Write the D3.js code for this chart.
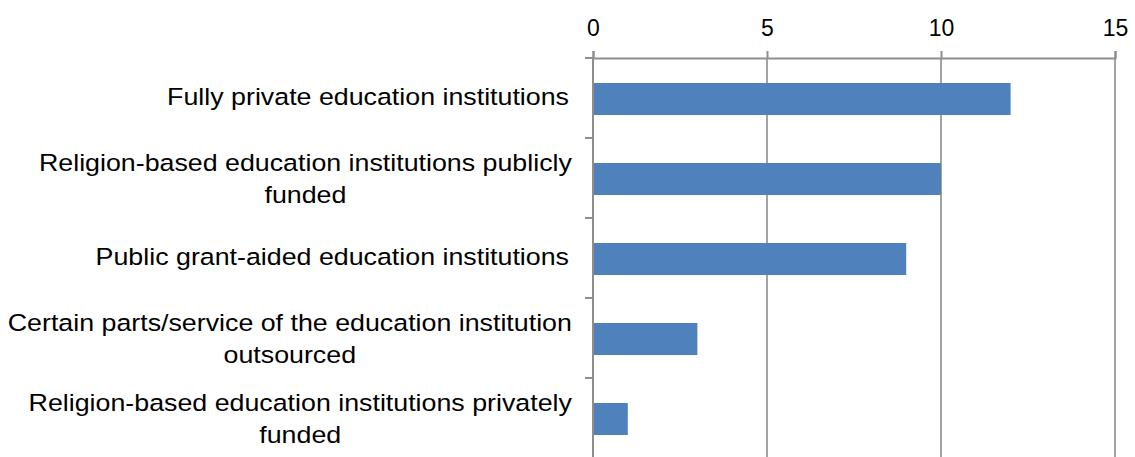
<!DOCTYPE html>
<html>
<head>
<meta charset="utf-8">
<script src="https://cdn.jsdelivr.net/npm/d3@7"></script>
<style>
  html, body { margin: 0; padding: 0; background: #ffffff; }
  svg { display: block; }
</style>
</head>
<body>
<svg id="chart" width="1135" height="457"></svg>
<script>
// Institution types (top to bottom) and their counts
const categories = [
  "Fully private education institutions",
  "Religion-based education institutions publicly\nfunded",
  "Public grant-aided education institutions",
  "Certain parts/service of the education institution\noutsourced",
  "Religion-based education institutions privately\nfunded"
];
const counts = [12, 10, 9, 3, 1];
const tickValues = [0, 5, 10, 15];

const svg = d3.select("#chart");
const labelFont = "'Liberation Sans', Arial, sans-serif";
const stretch = 1.14;

const x = d3.scaleLinear().domain([0, 15]).range([593, 1115]);
const y = d3.scaleBand().domain(categories).range([58, 458]).padding(0);

const gridColor = "#a3a3a3";
const axisColor = "#8e8e8e";

// vertical gridlines
svg.append("g")
  .selectAll("line")
  .data(tickValues.filter(v => v > 0))
  .join("line")
  .attr("x1", d => x(d)).attr("x2", d => x(d))
  .attr("y1", 58).attr("y2", 458)
  .attr("stroke", gridColor).attr("stroke-width", 2);

// top value axis
const xAxis = svg.append("g")
  .attr("transform", "translate(0,58)")
  .call(d3.axisTop(x).tickValues(tickValues).tickSize(7).tickPadding(0).tickFormat(d3.format("d")));
xAxis.select(".domain").attr("stroke", axisColor).attr("stroke-width", 2);
xAxis.selectAll(".tick line").attr("stroke", axisColor).attr("stroke-width", 2);
xAxis.selectAll(".tick text")
  .attr("y", -22)
  .attr("dy", 0)
  .attr("fill", "#000")
  .style("font-family", labelFont)
  .style("font-size", "23px");

// bars
const barH = y.bandwidth() * 0.4;
svg.append("g")
  .selectAll("rect")
  .data(categories.map((c, i) => ({ c, v: counts[i] })))
  .join("rect")
  .attr("x", x(0))
  .attr("y", d => y(d.c) + y.bandwidth() / 2 - barH / 2 + 1)
  .attr("width", d => x(d.v) - x(0))
  .attr("height", barH)
  .attr("fill", "#4f81bd");

// left category axis line and ticks
const yAxis = svg.append("g")
  .attr("transform", `translate(${x(0)},0)`);
yAxis.append("line")
  .attr("x1", 0).attr("x2", 0).attr("y1", 58).attr("y2", 458)
  .attr("stroke", axisColor).attr("stroke-width", 2);
const boundaries = categories.map(c => y(c)).concat([y.range()[1]]);
yAxis.selectAll("line.tk")
  .data(boundaries)
  .join("line")
  .attr("class", "tk")
  .attr("x1", -8).attr("x2", 0)
  .attr("y1", d => d).attr("y2", d => d)
  .attr("stroke", axisColor).attr("stroke-width", 2);

// category labels (wrapped lines centred within their block)
const labels = svg.append("g");
categories.forEach(c => {
  const lines = c.split("\n");
  const cy = y(c) + y.bandwidth() / 2;
  if (lines.length === 1) {
    labels.append("text")
      .attr("transform", `translate(569,${cy + 7}) scale(${stretch},1)`)
      .attr("text-anchor", "end")
      .style("font-family", labelFont)
      .style("font-size", "23.5px")
      .attr("fill", "#000")
      .text(lines[0]);
  } else {
    const temp = labels.append("text")
      .style("font-family", labelFont)
      .style("font-size", "23.5px")
      .text(lines[0]);
    const w = temp.node().getComputedTextLength() * stretch;
    temp.remove();
    const cx = 572 - w / 2;
    lines.forEach((ln, k) => {
      labels.append("text")
        .attr("transform", `translate(${cx},${cy - 7 + k * 32}) scale(${stretch},1)`)
        .attr("text-anchor", "middle")
        .style("font-family", labelFont)
        .style("font-size", "23.5px")
        .attr("fill", "#000")
        .text(ln);
    });
  }
});
</script>
</body>
</html>
